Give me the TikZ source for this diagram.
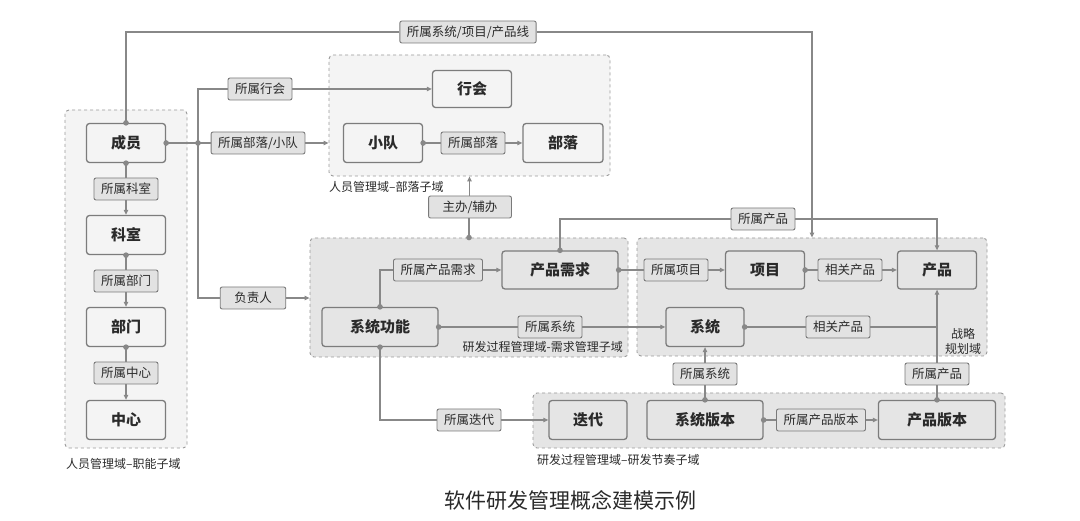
\documentclass[tikz,border=0pt]{standalone}
\usepackage{fontspec}
\setmainfont{Noto Sans CJK SC}
\usetikzlibrary{arrows.meta}
\definecolor{ln}{HTML}{888888}
\definecolor{nb}{HTML}{7C7C7C}
\definecolor{lb}{HTML}{7A7A7A}
\definecolor{lf}{HTML}{E2E2E2}
\definecolor{gl}{HTML}{F4F4F4}
\definecolor{gd}{HTML}{E5E5E5}
\definecolor{gb}{HTML}{9A9A9A}
\definecolor{tx}{HTML}{2A2A2A}
\newcommand\dotat[1]{\fill[ln] (#1) circle[radius=2.8pt];}
\begin{document}
\begin{tikzpicture}[x=1pt,y=-1pt,
  >={Triangle[length=5pt,width=4.5pt]},
  grpl/.style={draw=gb, dashed, line width=0.9pt, rounded corners=4pt, fill=gl, inner sep=0pt},
  grpd/.style={draw=gb, dashed, line width=0.9pt, rounded corners=4pt, fill=gd, inner sep=0pt},
  ent/.style={draw=nb, line width=1.3pt, rounded corners=3pt, minimum height=39pt, inner sep=0pt, text=tx, font=\fontsize{15}{18}\selectfont\bfseries},
  lab/.style={draw=lb, line width=0.9pt, rounded corners=2pt, fill=lf, minimum height=22pt, inner xsep=7pt, inner ysep=0pt, text=tx, font=\fontsize{12.5}{14}\selectfont},
  grpcap/.style={text=tx, inner sep=0pt, font=\fontsize{12}{14}\selectfont},
  conn/.style={draw=ln, line width=1.1pt}
]
\useasboundingbox[fill=white] (0,0) rectangle (1080,521);

% group boxes
\node[grpl, minimum width=122pt, minimum height=338pt] (g1) at (126,279) {};
\node[grpl, minimum width=281pt, minimum height=121pt] (g2) at (469.5,115.5) {};
\node[grpd, minimum width=318pt, minimum height=119pt] (g3) at (469,297.5) {};
\node[grpd, minimum width=350pt, minimum height=118pt] (g4) at (812,297) {};
\node[grpd, minimum width=472pt, minimum height=55pt] (g5) at (769,420.5) {};

% captions
\node[grpcap, anchor=west] (c1) at (66,464) {人员管理域–职能子域};
\node[grpcap, anchor=west] (c2) at (329,187) {人员管理域–部落子域};
\node[grpcap, anchor=east] (c3) at (623,347) {研发过程管理域-需求管理子域};
\node[grpcap, align=center] (c4) at (963,341) {战略\\[1pt]规划域};
\node[grpcap, anchor=west] (c5) at (537,460) {研发过程管理域–研发节奏子域};

% entity nodes
\node[ent, minimum width=79pt] (cy) at (126,143) {成员};
\node[ent, minimum width=79pt] (ks) at (126,235) {科室};
\node[ent, minimum width=79pt] (bm) at (126,327) {部门};
\node[ent, minimum width=79pt] (zx) at (126,420) {中心};
\node[ent, minimum width=79pt, minimum height=37pt] (hh) at (472,89) {行会};
\node[ent, minimum width=79pt] (xd) at (383,143) {小队};
\node[ent, minimum width=80pt] (bl) at (563,143) {部落};
\node[ent, minimum width=116pt, minimum height=38pt] (cpxq) at (560,270) {产品需求};
\node[ent, minimum width=116pt] (xtgn) at (380,327) {系统功能};
\node[ent, minimum width=79pt, minimum height=38pt] (xm) at (765,270) {项目};
\node[ent, minimum width=79pt, minimum height=38pt] (cp) at (937,270) {产品};
\node[ent, minimum width=78pt] (xt) at (705,327) {系统};
\node[ent, minimum width=78pt] (dd) at (588,420) {迭代};
\node[ent, minimum width=116pt] (xtbb) at (705,420) {系统版本};
\node[ent, minimum width=117pt] (cpbb) at (937,420) {产品版本};

% label nodes
\node[lab] (ltop) at (468,32) {所属系统/项目/产品线};
\node[lab] (lhh) at (260,89) {所属行会};
\node[lab] (lblxd) at (258,143) {所属部落/小队};
\node[lab] (lks) at (126,189) {所属科室};
\node[lab] (lbm) at (126,281) {所属部门};
\node[lab] (lzx) at (126,373) {所属中心};
\node[lab, inner xsep=14pt] (lfzr) at (253,298) {负责人};
\node[lab] (lbl) at (473,143) {所属部落};
\node[lab, inner xsep=14pt] (lzb) at (470,207) {主办/辅办};
\node[lab] (lcpxq) at (438,270) {所属产品需求};
\node[lab] (lxt1) at (550,327) {所属系统};
\node[lab] (lcp1) at (763,219) {所属产品};
\node[lab] (lxm) at (676,270) {所属项目};
\node[lab] (lxg1) at (850,270) {相关产品};
\node[lab] (lxg2) at (838,327) {相关产品};
\node[lab] (lxt2) at (705,374) {所属系统};
\node[lab] (lcp2) at (937,374) {所属产品};
\node[lab] (ldd) at (469,420) {所属迭代};
\node[lab] (lcpbb) at (821,420) {所属产品版本};

\coordinate (j) at (198,143);

% connectors
\draw[conn] (cy.north) |- (ltop.west);
\draw[conn,->] (ltop.east) -| (g4.north);

\draw[conn] (cy.east) -- (lblxd.west);
\draw[conn,->] (lblxd.east) -- (lblxd.east -| g2.west);
\draw[conn] (lhh.west) -| (j) |- (lfzr.west);
\draw[conn,->] (lhh.east) -- (hh.west);
\draw[conn,->] (lfzr.east) -- (lfzr.east -| g3.west);

\draw[conn] (cy.south) -- (lks.north);
\draw[conn,->] (lks.south) -- (ks.north);
\draw[conn] (ks.south) -- (lbm.north);
\draw[conn,->] (lbm.south) -- (bm.north);
\draw[conn] (bm.south) -- (lzx.north);
\draw[conn,->] (lzx.south) -- (zx.north);

\draw[conn] (xd.east) -- (lbl.west);
\draw[conn,->] (lbl.east) -- (bl.west);

\draw[conn] (g3.north) -- (lzb.south -| g3.north);
\draw[conn,->] (lzb.north -| g2.south) -- (g2.south);

\draw[conn] (xtgn.north) |- (lcpxq.west);
\draw[conn,->] (lcpxq.east) -- (cpxq.west);
\draw[conn] (xtgn.east) -- (lxt1.west);
\draw[conn,->] (lxt1.east) -- (xt.west);
\draw[conn] (xtgn.south) |- (ldd.west);
\draw[conn,->] (ldd.east) -- (dd.west);

\draw[conn] (cpxq.north) |- (lcp1.west);
\draw[conn,->] (lcp1.east) -| (cp.north);
\draw[conn] (cpxq.east) -- (lxm.west);
\draw[conn,->] (lxm.east) -- (xm.west);
\draw[conn] (xm.east) -- (lxg1.west);
\draw[conn,->] (lxg1.east) -- (cp.west);
\draw[conn] (xt.east) -- (lxg2.west);
\draw[conn] (lxg2.east) -- (lxg2.east -| cp.south);

\draw[conn] (xtbb.north) -- (lxt2.south);
\draw[conn,->] (lxt2.north) -- (xt.south);
\draw[conn] (cpbb.north) -- (lcp2.south);
\draw[conn,->] (lcp2.north) -- (cp.south);
\draw[conn] (xtbb.east) -- (lcpbb.west);
\draw[conn,->] (lcpbb.east) -- (cpbb.west);

% dots
\dotat{cy.north}
\dotat{cy.east}
\dotat{j}
\dotat{cy.south}
\dotat{ks.south}
\dotat{bm.south}
\dotat{xd.east}
\dotat{g3.north}
\dotat{xtgn.north}
\dotat{xtgn.east}
\dotat{xtgn.south}
\dotat{cpxq.north}
\dotat{cpxq.east}
\dotat{xm.east}
\dotat{xt.east}
\dotat{xtbb.north}
\dotat{xtbb.east}
\dotat{cpbb.north}

% title
\node[text=tx, font=\fontsize{21}{24}\selectfont] (title) at (570,500) {软件研发管理概念建模示例};
\end{tikzpicture}
\end{document}
